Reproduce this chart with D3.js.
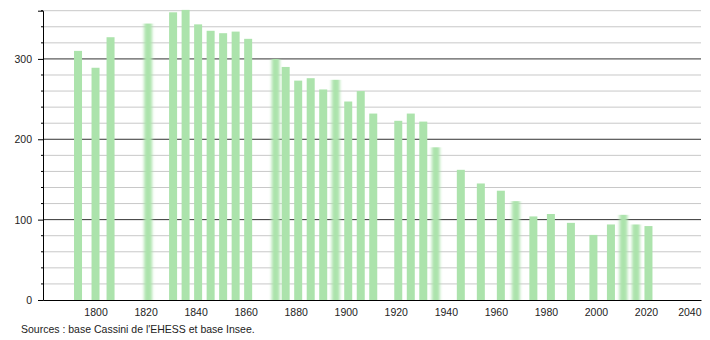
<!DOCTYPE html>
<html>
<head>
<meta charset="utf-8">
<script src="https://cdn.jsdelivr.net/npm/d3@7"></script>
<style>
    body { margin: 0; background: #fff; }
    svg { display: block; font-family: "Liberation Sans", Arial, sans-serif; }
</style>
</head>
<body>
<div id="chart"></div>
<script>
let years = [1793, 1800, 1806, 1821, 1831, 1836, 1841, 1846, 1851, 1856, 1861,
    1872, 1876, 1881, 1886, 1891, 1896, 1901, 1906, 1911, 1921, 1926, 1931, 1936,
    1946, 1954, 1962, 1968, 1975, 1982, 1990, 1999, 2006, 2011, 2016, 2021];
let population = [310, 289, 327, 344, 358, 361, 343, 335, 332, 334, 325,
    300, 290, 273, 276, 262, 274, 247, 260, 232, 223, 232, 222, 190,
    162, 145, 136, 123, 104, 107, 96, 81, 94, 106, 94, 92];
// bars that look smeared in the original image
let blurredYears = [1821, 1872, 1896, 1936, 1968, 2011, 2016];
let xTicks = [1800, 1820, 1840, 1860, 1880, 1900, 1920, 1940, 1960, 1980, 2000, 2020, 2040];
let yMajorTicks = [0, 100, 200, 300];
let yMinorTicks = d3.range(20, 361, 20).filter(v => v % 100 !== 0);
let sourceText = "Sources : base Cassini de l'EHESS et base Insee.";

let data = years.map((y, i) => ({ year: y, value: population[i] }));

function getConfiguration() {
    let width = 710, height = 340;
    let margin = { left: 43, right: 9, top: 10.7, bottom: 40 };
    let svg = d3.select('#chart').append('svg')
        .attr('width', width)
        .attr('height', height);
    let chart = svg.append('g')
        .attr('transform', `translate(${margin.left},${margin.top})`);
    let chartWidth = width - margin.left - margin.right;
    let chartHeight = 300 - margin.top;
    return { svg, chart, chartWidth, chartHeight, width, height };
}

function createScaler(config) {
    let { chartWidth, chartHeight } = config;
    let xScaler = d3.scaleLinear().domain([1779, 2042]).range([0, chartWidth]);
    let yScaler = d3.scaleLinear().domain([0, 360]).range([chartHeight, 0]);
    return { xScaler, yScaler };
}

function drawGrid(config, xScaler, yScaler) {
    let { chart, chartWidth } = config;
    chart.append('g').selectAll('line')
        .data(yMinorTicks)
        .enter().append('line')
        .attr('x1', 0).attr('x2', chartWidth)
        .attr('y1', d => yScaler(d)).attr('y2', d => yScaler(d))
        .attr('stroke', '#c8c8c8').attr('stroke-width', 1);
    chart.append('g').selectAll('line')
        .data(yMajorTicks.filter(d => d > 0))
        .enter().append('line')
        .attr('x1', 0).attr('x2', chartWidth)
        .attr('y1', d => yScaler(d)).attr('y2', d => yScaler(d))
        .attr('stroke', '#333').attr('stroke-width', 1);
}

function drawBars(config, xScaler, yScaler) {
    let { chart, svg, chartHeight } = config;
    svg.append('defs').append('filter')
        .attr('id', 'smear')
        .attr('x', '-60%').attr('width', '220%')
        .append('feGaussianBlur')
        .attr('stdDeviation', '1.8 0');
    let barWidth = 8;
    chart.append('g').selectAll('rect')
        .data(data)
        .enter().append('rect')
        .attr('x', d => xScaler(d.year) - barWidth / 2)
        .attr('y', d => yScaler(d.value))
        .attr('width', barWidth)
        .attr('height', d => chartHeight - yScaler(d.value))
        .attr('fill', '#ace3ac')
        .attr('filter', d => blurredYears.includes(d.year) ? 'url(#smear)' : null);
}

function drawAxes(config, xScaler, yScaler) {
    let { chart, chartHeight, chartWidth } = config;

    let yAxis = chart.append('g')
        .call(d3.axisLeft(yScaler).tickValues(yMajorTicks).tickSize(5).tickPadding(6));
    yAxis.append('g').selectAll('line')
        .data(yMinorTicks)
        .enter().append('line')
        .attr('x1', -2).attr('x2', 0)
        .attr('y1', d => yScaler(d)).attr('y2', d => yScaler(d))
        .attr('stroke', '#000');

    let xAxis = chart.append('g')
        .attr('transform', `translate(0,${chartHeight})`)
        .call(d3.axisBottom(xScaler).tickValues(xTicks).tickFormat(d3.format('d')).tickSize(0).tickPadding(9));

    [yAxis, xAxis].forEach(a => {
        a.select('.domain').attr('stroke', '#000').attr('stroke-width', 1);
        a.selectAll('text').attr('font-size', 10.5).attr('fill', '#222')
            .attr('font-family', '"Liberation Sans", Arial, sans-serif');
        a.selectAll('.tick line').attr('stroke', '#000');
    });
    xAxis.selectAll('.tick text').filter(d => d === 2040)
        .attr('text-anchor', 'end').attr('x', chartWidth - xScaler(2040));
}

function drawSource(config) {
    config.svg.append('text')
        .attr('x', 21).attr('y', 333)
        .attr('font-size', 10.5).attr('fill', '#222')
        .text(sourceText);
}

let config = getConfiguration();
let { xScaler, yScaler } = createScaler(config);
drawGrid(config, xScaler, yScaler);
drawBars(config, xScaler, yScaler);
drawAxes(config, xScaler, yScaler);
drawSource(config);
</script>
</body>
</html>
